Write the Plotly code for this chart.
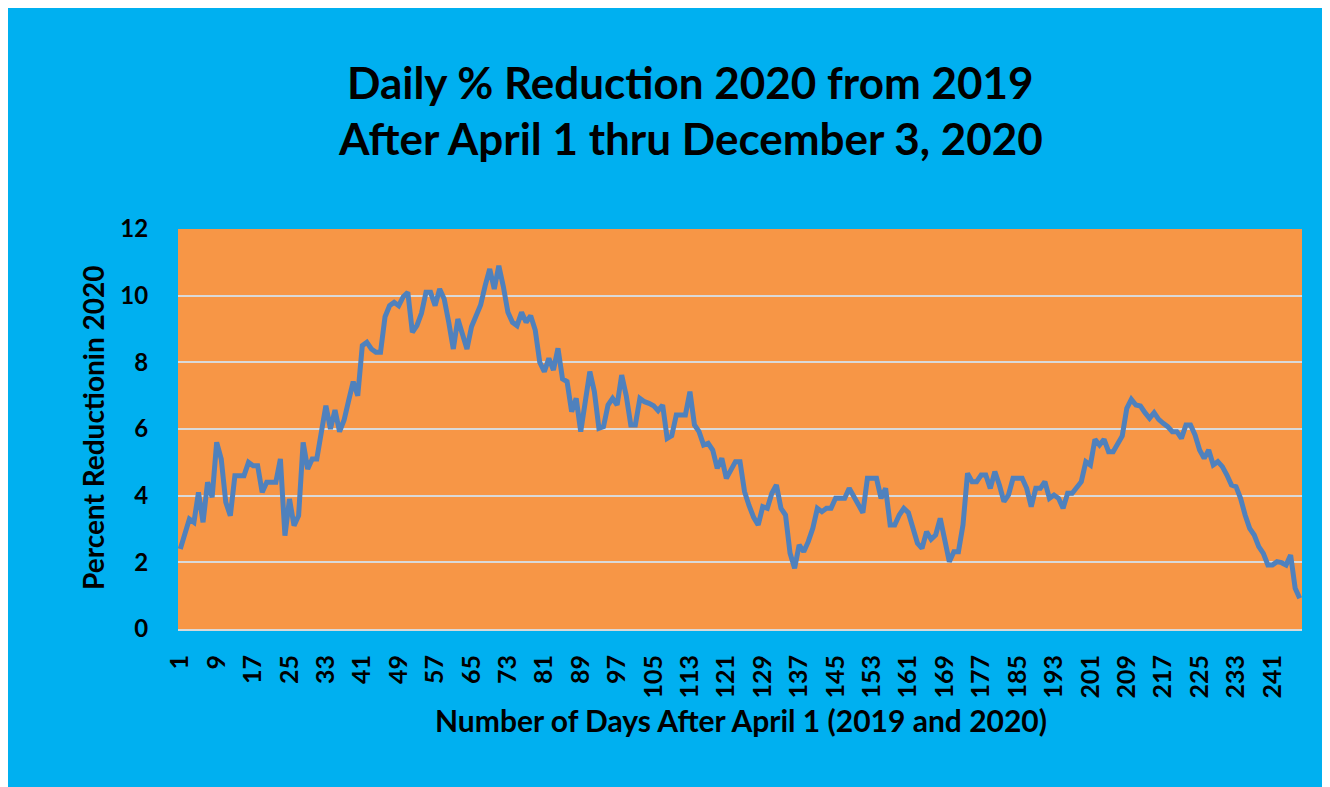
import plotly.graph_objects as go

days = list(range(1, 248))
reduction = [
    2.4, 2.85, 3.3, 3.2, 4.1, 3.2, 4.4, 3.95, 5.6, 5.1,
    3.8, 3.4, 4.6, 4.6, 4.6, 5.0, 4.9, 4.9, 4.1, 4.4,
    4.4, 4.4, 5.1, 2.8, 3.9, 3.1, 3.4, 5.6, 4.8, 5.1,
    5.1, 5.95, 6.7, 6.0, 6.57, 5.92, 6.27, 6.85, 7.42, 7.0,
    8.5, 8.6, 8.4, 8.3, 8.3, 9.37, 9.7, 9.8, 9.7, 9.97,
    10.1, 8.9, 9.1, 9.47, 10.1, 10.1, 9.7, 10.2, 9.9, 9.2,
    8.4, 9.3, 8.85, 8.4, 9.07, 9.4, 9.72, 10.3, 10.8, 10.2,
    10.9, 10.27, 9.5, 9.2, 9.1, 9.5, 9.2, 9.4, 8.97, 8.0,
    7.72, 8.12, 7.77, 8.42, 7.5, 7.42, 6.52, 6.92, 5.92, 6.82,
    7.72, 7.12, 6.02, 6.07, 6.72, 6.92, 6.72, 7.62, 7.0, 6.12,
    6.12, 6.92, 6.82, 6.77, 6.7, 6.55, 6.72, 5.72, 5.8, 6.42,
    6.42, 6.42, 7.12, 6.12, 5.92, 5.52, 5.57, 5.37, 4.82, 5.12,
    4.52, 4.77, 5.02, 5.02, 4.12, 3.7, 3.35, 3.12, 3.67, 3.62,
    4.07, 4.32, 3.62, 3.42, 2.27, 1.82, 2.52, 2.32, 2.62, 3.02,
    3.62, 3.52, 3.62, 3.62, 3.92, 3.92, 3.92, 4.22, 3.97, 3.72,
    3.49, 4.52, 4.52, 4.52, 3.92, 4.22, 3.12, 3.12, 3.42, 3.62,
    3.49, 3.07, 2.57, 2.42, 2.92, 2.69, 2.82, 3.32, 2.67, 2.02,
    2.32, 2.32, 3.12, 4.67, 4.42, 4.42, 4.62, 4.62, 4.22, 4.72,
    4.32, 3.82, 4.02, 4.52, 4.52, 4.52, 4.22, 3.67, 4.22, 4.22,
    4.42, 3.92, 4.02, 3.92, 3.62, 4.07, 4.07, 4.27, 4.42, 5.02,
    4.92, 5.69, 5.52, 5.69, 5.32, 5.32, 5.57, 5.79, 6.62, 6.89,
    6.72, 6.69, 6.49, 6.32, 6.49, 6.29, 6.17, 6.07, 5.92, 5.92,
    5.72, 6.12, 6.12, 5.82, 5.37, 5.12, 5.37, 4.92, 5.02, 4.87,
    4.62, 4.32, 4.27, 3.92, 3.42, 3.02, 2.82, 2.47, 2.27, 1.92,
    1.92, 2.02, 1.99, 1.92, 2.22, 1.22, 0.92,
]
x_tick_values = list(range(1, 248, 8))
y_tick_values = [0, 2, 4, 6, 8, 10, 12]

title_line1 = "Daily % Reduction 2020 from 2019"
title_line2 = "After April 1 thru December 3, 2020"
x_title = "Number of Days After April 1 (2019 and 2020)"
y_title = "Percent Reductionin 2020"

# page has an 8px body margin; figure sized to fit the window
OFF = 8
W, H = 1327 - OFF, 787 - OFF
PLOT_L, PLOT_T, PW, PH = 178, 229, 1124, 400  # screen coords of plot area
L, T = PLOT_L - OFF, PLOT_T - OFF
R = W - L - PW
B = H - T - PH

def px(xp):
    return (xp - PLOT_L) / PW

def py(yp):
    return (PLOT_T + PH - yp) / PH

FONT = "Lato"
BLUE_BG = "#00B0F0"

fig = go.Figure()
fig.add_trace(go.Scatter(
    x=days, y=reduction, mode="lines",
    line=dict(color="#4F81BD", width=5),
    hoverinfo="x+y", showlegend=False,
))

fig.update_layout(
    width=W, height=H,
    margin=dict(l=L, r=R, t=T, b=B, pad=0),
    paper_bgcolor=BLUE_BG,
    plot_bgcolor="#F79646",
    showlegend=False,
    xaxis=dict(
        range=[0.5, 247.5], tickmode="array", tickvals=x_tick_values,
        ticktext=[str(v) for v in x_tick_values],
        tickangle=-90, showgrid=False, zeroline=False, showline=True,
        linecolor="#D9D9D9", linewidth=2,
        ticks="outside", ticklen=14, tickcolor="rgba(0,0,0,0)",
        tickfont=dict(family=FONT, size=25, color="black", weight="bold"),
    ),
    yaxis=dict(
        range=[0, 12], tickmode="array", tickvals=y_tick_values,
        showgrid=True, gridcolor="#D9D9D9", gridwidth=2,
        zeroline=False, showline=False,
        ticks="outside", ticklen=24, tickcolor="rgba(0,0,0,0)",
        tickfont=dict(family=FONT, size=24, color="black", weight="bold"),
    ),
    annotations=[
        dict(text=title_line1, x=px(690), y=py(82), xref="paper", yref="paper",
             xanchor="center", yanchor="middle", showarrow=False,
             font=dict(family=FONT, size=44, color="black", weight="bold")),
        dict(text=title_line2, x=px(690), y=py(138), xref="paper", yref="paper",
             xanchor="center", yanchor="middle", showarrow=False,
             font=dict(family=FONT, size=44, color="black", weight="bold")),
        dict(text=x_title, x=px(741), y=py(720), xref="paper", yref="paper",
             xanchor="center", yanchor="middle", showarrow=False,
             font=dict(family=FONT, size=30, color="black", weight="bold")),
        dict(text=y_title, x=px(93), y=py(428), xref="paper", yref="paper",
             xanchor="center", yanchor="middle", showarrow=False, textangle=-90,
             font=dict(family=FONT, size=28, color="black", weight="bold")),
    ],
)

fig.write_html("out.html")
